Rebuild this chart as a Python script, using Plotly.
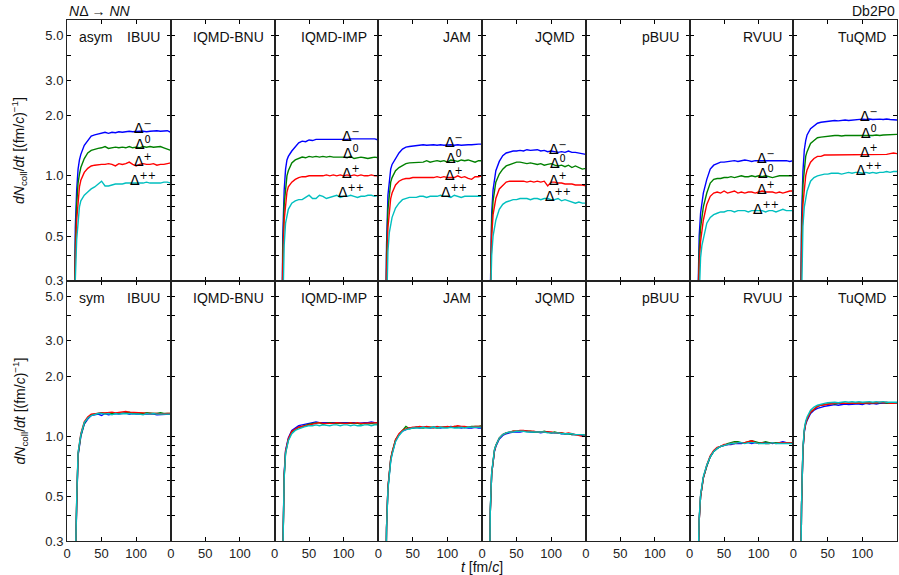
import math
import plotly.graph_objects as go
from plotly.subplots import make_subplots

# ---------------- data ----------------
models = ["IBUU", "IQMD-BNU", "IQMD-IMP", "JAM", "JQMD", "pBUU", "RVUU", "TuQMD"]
row_labels = ["asym", "sym"]
species = ["Δ<sup>−</sup>", "Δ<sup>0</sup>", "Δ<sup>+</sup>", "Δ<sup>++</sup>"]
colors = ["#0000ff", "#008000", "#ff0000", "#00bfbf"]

t = [10, 12, 14, 16, 18, 20, 25, 30, 35, 40, 45, 50, 55, 60, 65, 70, 75, 80, 85, 90,
     95, 100, 105, 110, 115, 120, 125, 130, 135, 140, 145, 150]

# ---- asymmetric system (top row) ----
ibuu_asym_m = [0.12, 0.55, 0.85, 1.08, 1.2, 1.28, 1.42, 1.5, 1.58, 1.6, 1.62, 1.63, 1.65, 1.63, 1.65, 1.64, 1.66, 1.65, 1.66, 1.67, 1.66, 1.67, 1.67, 1.67, 1.66, 1.67, 1.68, 1.68, 1.67, 1.67, 1.68, 1.65]
ibuu_asym_0 = [0.1, 0.45, 0.72, 0.92, 1.02, 1.1, 1.22, 1.3, 1.34, 1.36, 1.37, 1.38, 1.40, 1.37, 1.38, 1.39, 1.38, 1.39, 1.38, 1.40, 1.38, 1.39, 1.38, 1.40, 1.39, 1.40, 1.39, 1.40, 1.40, 1.38, 1.36, 1.34]
ibuu_asym_p = [0.1, 0.38, 0.6, 0.78, 0.88, 0.95, 1.04, 1.09, 1.12, 1.13, 1.14, 1.14, 1.14, 1.15, 1.14, 1.12, 1.15, 1.14, 1.15, 1.17, 1.14, 1.12, 1.14, 1.15, 1.14, 1.14, 1.15, 1.13, 1.14, 1.14, 1.15, 1.16]
ibuu_asym_pp = [0.1, 0.3, 0.48, 0.62, 0.7, 0.75, 0.8, 0.83, 0.86, 0.88, 0.91, 0.94, 0.89, 0.89, 0.90, 0.91, 0.91, 0.91, 0.92, 0.92, 0.92, 0.92, 0.92, 0.92, 0.93, 0.92, 0.92, 0.92, 0.92, 0.93, 0.93, 0.92]

imp_asym_m = [0.1, 0.5, 0.85, 1.08, 1.2, 1.25, 1.33, 1.4, 1.46, 1.49, 1.48, 1.51, 1.50, 1.52, 1.52, 1.52, 1.51, 1.52, 1.52, 1.51, 1.52, 1.52, 1.52, 1.53, 1.53, 1.52, 1.53, 1.53, 1.53, 1.53, 1.53, 1.51]
imp_asym_0 = [0.1, 0.42, 0.72, 0.9, 1.0, 1.06, 1.16, 1.2, 1.22, 1.24, 1.23, 1.25, 1.24, 1.25, 1.24, 1.25, 1.24, 1.25, 1.24, 1.24, 1.25, 1.24, 1.23, 1.25, 1.22, 1.23, 1.24, 1.23, 1.22, 1.23, 1.24, 1.23]
imp_asym_p = [0.1, 0.35, 0.6, 0.75, 0.83, 0.88, 0.93, 0.96, 0.98, 0.99, 0.99, 1.0, 1.0, 1.0, 1.0, 1.0, 1.01, 1.0, 1.01, 1.0, 1.01, 1.0, 1.01, 1.0, 1.01, 1.0, 1.01, 1.0, 1.0, 1.01, 1.0, 1.0]
imp_asym_pp = [0.1, 0.28, 0.45, 0.58, 0.64, 0.68, 0.73, 0.75, 0.76, 0.76, 0.78, 0.80, 0.77, 0.77, 0.80, 0.79, 0.77, 0.78, 0.79, 0.80, 0.78, 0.79, 0.79, 0.80, 0.79, 0.78, 0.79, 0.79, 0.80, 0.80, 0.79, 0.80]

jam_asym_m = [0.1, 0.45, 0.8, 0.98, 1.08, 1.14, 1.22, 1.3, 1.36, 1.39, 1.40, 1.41, 1.42, 1.42, 1.43, 1.42, 1.43, 1.43, 1.42, 1.43, 1.42, 1.43, 1.43, 1.42, 1.43, 1.42, 1.43, 1.43, 1.43, 1.44, 1.44, 1.44]
jam_asym_0 = [0.1, 0.4, 0.68, 0.84, 0.93, 0.98, 1.06, 1.1, 1.13, 1.15, 1.16, 1.16, 1.17, 1.16, 1.17, 1.19, 1.17, 1.18, 1.19, 1.18, 1.19, 1.17, 1.20, 1.19, 1.18, 1.2, 1.19, 1.2, 1.18, 1.17, 1.19, 1.19]
jam_asym_p = [0.1, 0.33, 0.55, 0.68, 0.77, 0.82, 0.9, 0.94, 0.96, 0.97, 0.97, 0.98, 0.98, 0.98, 0.98, 0.98, 0.98, 0.98, 0.99, 0.98, 0.99, 0.98, 0.98, 0.98, 1.0, 0.98, 0.99, 0.97, 0.96, 0.99, 0.99, 1.0]
jam_asym_pp = [0.1, 0.26, 0.42, 0.52, 0.58, 0.62, 0.69, 0.73, 0.76, 0.77, 0.78, 0.78, 0.78, 0.79, 0.79, 0.78, 0.79, 0.79, 0.79, 0.80, 0.79, 0.79, 0.78, 0.80, 0.79, 0.78, 0.79, 0.79, 0.79, 0.79, 0.79, 0.79]

jqmd_asym_m = [0.1, 0.35, 0.65, 0.85, 0.98, 1.06, 1.18, 1.26, 1.3, 1.32, 1.33, 1.33, 1.34, 1.33, 1.35, 1.34, 1.34, 1.35, 1.33, 1.34, 1.32, 1.33, 1.32, 1.31, 1.32, 1.31, 1.33, 1.31, 1.31, 1.30, 1.30, 1.28]
jqmd_asym_0 = [0.1, 0.32, 0.58, 0.75, 0.86, 0.93, 1.02, 1.08, 1.12, 1.14, 1.15, 1.17, 1.17, 1.16, 1.15, 1.16, 1.15, 1.14, 1.15, 1.13, 1.14, 1.15, 1.13, 1.12, 1.13, 1.11, 1.13, 1.10, 1.12, 1.10, 1.08, 1.09]
jqmd_asym_p = [0.1, 0.28, 0.5, 0.64, 0.72, 0.77, 0.86, 0.9, 0.93, 0.94, 0.94, 0.94, 0.94, 0.94, 0.93, 0.94, 0.93, 0.94, 0.93, 0.94, 0.89, 0.93, 0.93, 0.92, 0.92, 0.91, 0.91, 0.91, 0.90, 0.90, 0.90, 0.89]
jqmd_asym_pp = [0.1, 0.24, 0.4, 0.5, 0.56, 0.6, 0.68, 0.72, 0.74, 0.75, 0.76, 0.76, 0.77, 0.77, 0.77, 0.76, 0.77, 0.77, 0.76, 0.77, 0.77, 0.76, 0.76, 0.77, 0.75, 0.76, 0.75, 0.74, 0.73, 0.74, 0.73, 0.73]

rvuu_asym_m = [0.1, 0.25, 0.5, 0.65, 0.75, 0.82, 0.96, 1.08, 1.13, 1.15, 1.17, 1.17, 1.18, 1.19, 1.19, 1.18, 1.19, 1.20, 1.19, 1.18, 1.19, 1.19, 1.20, 1.19, 1.19, 1.19, 1.20, 1.19, 1.19, 1.19, 1.18, 1.19]
rvuu_asym_0 = [0.1, 0.22, 0.42, 0.55, 0.64, 0.7, 0.82, 0.92, 0.96, 0.97, 0.97, 0.98, 0.98, 0.99, 0.98, 0.99, 1.0, 0.99, 0.99, 1.0, 0.99, 1.0, 0.99, 1.0, 0.99, 0.98, 0.99, 1.0, 1.0, 1.0, 1.0, 1.0]
rvuu_asym_p = [0.1, 0.2, 0.36, 0.47, 0.55, 0.6, 0.72, 0.79, 0.82, 0.83, 0.82, 0.84, 0.82, 0.83, 0.84, 0.82, 0.83, 0.82, 0.83, 0.83, 0.82, 0.83, 0.84, 0.83, 0.83, 0.83, 0.82, 0.83, 0.82, 0.83, 0.84, 0.84]
rvuu_asym_pp = [0.1, 0.17, 0.3, 0.39, 0.45, 0.49, 0.58, 0.62, 0.64, 0.65, 0.66, 0.66, 0.67, 0.67, 0.66, 0.67, 0.67, 0.67, 0.66, 0.67, 0.67, 0.67, 0.67, 0.66, 0.67, 0.67, 0.66, 0.67, 0.68, 0.67, 0.67, 0.67]

tuqmd_asym_m = [0.1, 0.6, 1.05, 1.35, 1.5, 1.6, 1.72, 1.78, 1.83, 1.85, 1.86, 1.87, 1.88, 1.89, 1.88, 1.89, 1.90, 1.89, 1.90, 1.90, 1.91, 1.92, 1.91, 1.92, 1.91, 1.92, 1.92, 1.91, 1.92, 1.91, 1.90, 1.90]
tuqmd_asym_0 = [0.1, 0.5, 0.9, 1.12, 1.25, 1.32, 1.45, 1.5, 1.55, 1.56, 1.57, 1.58, 1.58, 1.59, 1.59, 1.58, 1.59, 1.59, 1.58, 1.59, 1.59, 1.58, 1.59, 1.58, 1.59, 1.60, 1.59, 1.60, 1.60, 1.60, 1.61, 1.61]
tuqmd_asym_p = [0.1, 0.4, 0.72, 0.9, 1.0, 1.07, 1.17, 1.22, 1.25, 1.25, 1.27, 1.27, 1.27, 1.28, 1.28, 1.27, 1.27, 1.28, 1.28, 1.28, 1.27, 1.28, 1.28, 1.27, 1.28, 1.28, 1.28, 1.28, 1.28, 1.29, 1.30, 1.29]
tuqmd_asym_pp = [0.1, 0.32, 0.56, 0.7, 0.78, 0.84, 0.94, 0.98, 1.0, 1.01, 1.02, 1.02, 1.03, 1.03, 1.03, 1.02, 1.03, 1.04, 1.03, 1.04, 1.04, 1.03, 1.04, 1.03, 1.04, 1.03, 1.04, 1.04, 1.05, 1.04, 1.05, 1.05]

# ---- symmetric system (bottom row) ----
ibuu_sym_m = [0.1, 0.25, 0.45, 0.8, 0.92, 1.0, 1.15, 1.22, 1.27, 1.28, 1.29, 1.27, 1.30, 1.28, 1.29, 1.30, 1.29, 1.30, 1.31, 1.29, 1.30, 1.29, 1.29, 1.30, 1.29, 1.29, 1.29, 1.28, 1.28, 1.29, 1.29, 1.29]
ibuu_sym_0 = [0.1, 0.25, 0.46, 0.81, 0.93, 1.01, 1.16, 1.24, 1.28, 1.29, 1.30, 1.31, 1.30, 1.31, 1.30, 1.30, 1.31, 1.31, 1.31, 1.32, 1.30, 1.31, 1.30, 1.30, 1.31, 1.30, 1.30, 1.30, 1.31, 1.30, 1.30, 1.30]
ibuu_sym_p = [0.1, 0.25, 0.47, 0.82, 0.95, 1.03, 1.18, 1.25, 1.29, 1.30, 1.30, 1.31, 1.31, 1.32, 1.32, 1.31, 1.32, 1.32, 1.33, 1.32, 1.32, 1.31, 1.31, 1.31, 1.30, 1.30, 1.31, 1.30, 1.29, 1.30, 1.30, 1.30]
ibuu_sym_pp = [0.1, 0.26, 0.48, 0.83, 0.94, 1.02, 1.17, 1.23, 1.27, 1.29, 1.30, 1.30, 1.29, 1.30, 1.28, 1.30, 1.29, 1.30, 1.30, 1.30, 1.29, 1.30, 1.29, 1.28, 1.30, 1.29, 1.30, 1.29, 1.29, 1.29, 1.30, 1.29]

imp_sym_m = [0.1, 0.3, 0.65, 0.85, 0.93, 0.98, 1.07, 1.10, 1.13, 1.14, 1.15, 1.16, 1.17, 1.18, 1.17, 1.17, 1.18, 1.17, 1.17, 1.18, 1.18, 1.17, 1.18, 1.17, 1.17, 1.16, 1.17, 1.17, 1.17, 1.18, 1.17, 1.17]
imp_sym_0 = [0.1, 0.3, 0.63, 0.83, 0.91, 0.96, 1.05, 1.08, 1.11, 1.12, 1.14, 1.15, 1.16, 1.16, 1.17, 1.15, 1.16, 1.17, 1.16, 1.16, 1.16, 1.16, 1.17, 1.16, 1.16, 1.16, 1.15, 1.16, 1.15, 1.16, 1.15, 1.15]
imp_sym_p = [0.1, 0.3, 0.64, 0.84, 0.92, 0.97, 1.06, 1.09, 1.11, 1.12, 1.13, 1.14, 1.15, 1.16, 1.17, 1.16, 1.16, 1.15, 1.16, 1.17, 1.16, 1.16, 1.16, 1.17, 1.16, 1.17, 1.16, 1.16, 1.17, 1.16, 1.16, 1.17]
imp_sym_pp = [0.1, 0.29, 0.62, 0.82, 0.9, 0.95, 1.03, 1.07, 1.09, 1.11, 1.12, 1.13, 1.13, 1.14, 1.13, 1.14, 1.13, 1.13, 1.14, 1.14, 1.13, 1.14, 1.14, 1.13, 1.14, 1.13, 1.13, 1.14, 1.14, 1.13, 1.14, 1.14]

jam_sym_m = [0.1, 0.35, 0.55, 0.68, 0.76, 0.82, 0.95, 1.02, 1.06, 1.08, 1.10, 1.10, 1.11, 1.10, 1.11, 1.11, 1.10, 1.11, 1.11, 1.10, 1.11, 1.11, 1.12, 1.11, 1.11, 1.10, 1.11, 1.10, 1.10, 1.11, 1.10, 1.10]
jam_sym_0 = [0.1, 0.35, 0.55, 0.68, 0.77, 0.83, 0.96, 1.02, 1.07, 1.12, 1.09, 1.10, 1.11, 1.11, 1.10, 1.11, 1.11, 1.11, 1.10, 1.11, 1.11, 1.11, 1.11, 1.12, 1.11, 1.11, 1.11, 1.11, 1.12, 1.12, 1.12, 1.13]
jam_sym_p = [0.1, 0.35, 0.56, 0.69, 0.77, 0.83, 0.96, 1.03, 1.07, 1.09, 1.10, 1.11, 1.11, 1.12, 1.11, 1.12, 1.11, 1.10, 1.12, 1.11, 1.11, 1.12, 1.11, 1.12, 1.13, 1.12, 1.12, 1.11, 1.11, 1.12, 1.12, 1.12]
jam_sym_pp = [0.1, 0.34, 0.54, 0.67, 0.75, 0.81, 0.94, 1.01, 1.06, 1.08, 1.09, 1.10, 1.10, 1.10, 1.11, 1.10, 1.10, 1.11, 1.10, 1.11, 1.10, 1.10, 1.11, 1.10, 1.10, 1.11, 1.10, 1.11, 1.11, 1.11, 1.11, 1.11]

jqmd_sym_m = [0.1, 0.42, 0.65, 0.76, 0.84, 0.89, 0.97, 1.01, 1.03, 1.04, 1.05, 1.05, 1.05, 1.06, 1.06, 1.05, 1.05, 1.05, 1.04, 1.05, 1.05, 1.04, 1.04, 1.04, 1.03, 1.03, 1.03, 1.02, 1.02, 1.02, 1.01, 1.01]
jqmd_sym_0 = [0.1, 0.42, 0.65, 0.77, 0.85, 0.9, 0.98, 1.02, 1.04, 1.05, 1.06, 1.06, 1.06, 1.06, 1.06, 1.06, 1.05, 1.05, 1.05, 1.06, 1.05, 1.04, 1.05, 1.04, 1.04, 1.03, 1.03, 1.02, 1.02, 1.02, 1.02, 1.01]
jqmd_sym_p = [0.1, 0.42, 0.65, 0.77, 0.85, 0.9, 0.98, 1.02, 1.04, 1.05, 1.06, 1.06, 1.07, 1.07, 1.06, 1.06, 1.06, 1.05, 1.05, 1.05, 1.05, 1.05, 1.04, 1.04, 1.04, 1.03, 1.04, 1.03, 1.02, 1.01, 1.00, 1.01]
jqmd_sym_pp = [0.1, 0.43, 0.66, 0.78, 0.86, 0.9, 0.98, 1.02, 1.04, 1.05, 1.05, 1.06, 1.06, 1.06, 1.05, 1.05, 1.05, 1.05, 1.05, 1.05, 1.04, 1.04, 1.04, 1.04, 1.03, 1.03, 1.03, 1.03, 1.02, 1.02, 1.02, 1.01]

rvuu_sym_m = [0.1, 0.2, 0.38, 0.5, 0.57, 0.62, 0.71, 0.79, 0.84, 0.87, 0.89, 0.90, 0.91, 0.91, 0.92, 0.92, 0.92, 0.93, 0.93, 0.92, 0.93, 0.93, 0.93, 0.93, 0.93, 0.92, 0.93, 0.93, 0.94, 0.93, 0.93, 0.93]
rvuu_sym_0 = [0.1, 0.2, 0.38, 0.5, 0.57, 0.62, 0.71, 0.79, 0.84, 0.87, 0.89, 0.90, 0.92, 0.93, 0.94, 0.94, 0.93, 0.93, 0.94, 0.95, 0.94, 0.93, 0.93, 0.94, 0.93, 0.93, 0.93, 0.93, 0.93, 0.93, 0.93, 0.93]
rvuu_sym_p = [0.1, 0.2, 0.38, 0.5, 0.57, 0.62, 0.72, 0.80, 0.85, 0.88, 0.89, 0.91, 0.91, 0.92, 0.92, 0.93, 0.93, 0.93, 0.94, 0.95, 0.93, 0.92, 0.93, 0.92, 0.92, 0.93, 0.92, 0.93, 0.93, 0.93, 0.93, 0.93]
rvuu_sym_pp = [0.1, 0.21, 0.39, 0.51, 0.58, 0.63, 0.72, 0.79, 0.84, 0.87, 0.89, 0.90, 0.91, 0.92, 0.92, 0.93, 0.93, 0.92, 0.93, 0.93, 0.93, 0.92, 0.92, 0.92, 0.92, 0.93, 0.92, 0.92, 0.92, 0.92, 0.92, 0.92]

tuqmd_sym_m = [0.1, 0.45, 0.85, 1.05, 1.15, 1.2, 1.3, 1.35, 1.38, 1.40, 1.41, 1.42, 1.43, 1.44, 1.43, 1.44, 1.45, 1.44, 1.45, 1.45, 1.45, 1.44, 1.46, 1.45, 1.46, 1.45, 1.46, 1.46, 1.47, 1.46, 1.46, 1.47]
tuqmd_sym_0 = [0.1, 0.45, 0.86, 1.07, 1.17, 1.22, 1.32, 1.37, 1.41, 1.43, 1.44, 1.45, 1.46, 1.45, 1.46, 1.47, 1.46, 1.46, 1.47, 1.46, 1.46, 1.47, 1.46, 1.47, 1.46, 1.47, 1.47, 1.48, 1.46, 1.47, 1.47, 1.47]
tuqmd_sym_p = [0.1, 0.45, 0.86, 1.06, 1.16, 1.22, 1.32, 1.37, 1.41, 1.43, 1.44, 1.45, 1.46, 1.47, 1.47, 1.46, 1.46, 1.47, 1.46, 1.46, 1.47, 1.46, 1.47, 1.47, 1.46, 1.47, 1.48, 1.47, 1.48, 1.46, 1.46, 1.47]
tuqmd_sym_pp = [0.1, 0.46, 0.88, 1.09, 1.19, 1.25, 1.35, 1.40, 1.43, 1.45, 1.46, 1.47, 1.48, 1.48, 1.47, 1.48, 1.49, 1.48, 1.49, 1.48, 1.49, 1.48, 1.49, 1.49, 1.48, 1.49, 1.48, 1.49, 1.48, 1.48, 1.48, 1.48]

asym_data = {
    "IBUU": [ibuu_asym_m, ibuu_asym_0, ibuu_asym_p, ibuu_asym_pp],
    "IQMD-IMP": [imp_asym_m, imp_asym_0, imp_asym_p, imp_asym_pp],
    "JAM": [jam_asym_m, jam_asym_0, jam_asym_p, jam_asym_pp],
    "JQMD": [jqmd_asym_m, jqmd_asym_0, jqmd_asym_p, jqmd_asym_pp],
    "RVUU": [rvuu_asym_m, rvuu_asym_0, rvuu_asym_p, rvuu_asym_pp],
    "TuQMD": [tuqmd_asym_m, tuqmd_asym_0, tuqmd_asym_p, tuqmd_asym_pp],
}
sym_data = {
    "IBUU": [ibuu_sym_m, ibuu_sym_0, ibuu_sym_p, ibuu_sym_pp],
    "IQMD-IMP": [imp_sym_m, imp_sym_0, imp_sym_p, imp_sym_pp],
    "JAM": [jam_sym_m, jam_sym_0, jam_sym_p, jam_sym_pp],
    "JQMD": [jqmd_sym_m, jqmd_sym_0, jqmd_sym_p, jqmd_sym_pp],
    "RVUU": [rvuu_sym_m, rvuu_sym_0, rvuu_sym_p, rvuu_sym_pp],
    "TuQMD": [tuqmd_sym_m, tuqmd_sym_0, tuqmd_sym_p, tuqmd_sym_pp],
}

y_major = [0.3, 0.5, 1.0, 2.0, 3.0, 5.0]
y_major_text = ["0.3", "0.5", "1.0", "2.0", "3.0", "5.0"]
y_minor = [0.4, 0.6, 0.7, 0.8, 0.9, 4.0, 6.0]
x_tickvals = [0, 50, 100]
x_ticktext = ["0", "50", "100"]
label_time = 110

# ---------------- figure ----------------
FONT = "Liberation Sans, Arial, sans-serif"
fig = make_subplots(rows=2, cols=8, horizontal_spacing=0, vertical_spacing=0)

for r, data in enumerate([asym_data, sym_data], start=1):
    for c, m in enumerate(models, start=1):
        if m not in data:
            fig.add_trace(go.Scatter(x=[None], y=[None], mode="lines", showlegend=False,
                                     hoverinfo="skip"), row=r, col=c)
            continue
        for k, series in enumerate(data[m]):
            fig.add_trace(go.Scatter(x=t, y=series, mode="lines",
                                     line=dict(color=colors[k], width=1.4),
                                     showlegend=False, hoverinfo="skip"),
                          row=r, col=c)

annotations = []
for r in (1, 2):
    for c, m in enumerate(models, start=1):
        n = (r - 1) * 8 + c
        sfx = "" if n == 1 else str(n)
        fig.update_xaxes(type="linear", range=[0, 150], tickvals=x_tickvals,
                         ticktext=x_ticktext, showticklabels=(r == 2),
                         ticks="inside", ticklen=4, tickcolor="black",
                         showline=True, linecolor="#222", linewidth=1,
                         mirror="ticks", showgrid=False, zeroline=False,
                         tickfont=dict(size=13, family=FONT, color="#222"),
                         row=r, col=c)
        fig.update_yaxes(type="log", range=[math.log10(0.3), math.log10(6.0)],
                         tickvals=y_major, ticktext=y_major_text,
                         showticklabels=(c == 1),
                         ticks="inside", ticklen=4, tickcolor="black",
                         minor=dict(tickvals=y_minor, ticks="inside", ticklen=4,
                                    tickcolor="black", showgrid=False),
                         showline=True, linecolor="#222", linewidth=1,
                         mirror="ticks", showgrid=False, zeroline=False,
                         tickfont=dict(size=13, family=FONT, color="#222"),
                         row=r, col=c)
        # model name
        annotations.append(dict(text=m, xref=f"x{sfx} domain", yref=f"y{sfx} domain",
                                x=1, y=1, xanchor="right", yanchor="middle",
                                xshift=-9, yshift=-17, showarrow=False,
                                font=dict(size=14, family=FONT, color="#111")))
        if c == 1:
            annotations.append(dict(text=row_labels[r - 1], xref=f"x{sfx} domain",
                                    yref=f"y{sfx} domain", x=0, y=1, xanchor="left",
                                    yanchor="middle", xshift=10, yshift=-17,
                                    showarrow=False,
                                    font=dict(size=14, family=FONT, color="#111")))
        if r == 1 and m in asym_data:
            idx = t.index(label_time)
            for k, series in enumerate(asym_data[m]):
                annotations.append(dict(text=species[k], xref=f"x{sfx}", yref=f"y{sfx}",
                                        x=label_time, y=math.log10(series[idx]),
                                        xanchor="center", yanchor="middle", yshift=4,
                                        showarrow=False,
                                        font=dict(size=14, family="DejaVu Sans", color="black")))

# global texts
annotations += [
    dict(text="<i>N</i>Δ → <i>NN</i>", xref="paper", yref="paper", x=0, y=1,
         xanchor="left", yanchor="bottom", showarrow=False, yshift=-1,
         font=dict(size=14, family=FONT, color="#111")),
    dict(text="Db2P0", xref="paper", yref="paper", x=1, y=1,
         xanchor="right", yanchor="bottom", showarrow=False, yshift=-1,
         font=dict(size=14, family=FONT, color="#111")),
    dict(text="<i>t</i> [fm/<i>c</i>]", xref="paper", yref="paper", x=0.5, y=0,
         xanchor="center", yanchor="middle", yshift=-26, showarrow=False,
         font=dict(size=14, family=FONT, color="#111")),
]
for yy in (0.75, 0.25):
    annotations.append(dict(text="<i>dN</i><sub>coll</sub>/<i>dt</i> [(fm/<i>c</i>)<sup>−1</sup>]",
                            xref="paper", yref="paper", x=-0.057, y=yy, textangle=-90,
                            xanchor="center", yanchor="middle", showarrow=False,
                            font=dict(size=14, family=FONT, color="#111")))

fig.update_layout(width=899, height=575, margin=dict(l=67, r=2, t=20, b=34),
                  plot_bgcolor="white", paper_bgcolor="white",
                  annotations=annotations, showlegend=False,
                  font=dict(family=FONT, color="#111"))

# remove the browser's default 8px body margin so the figure fills the window
fig.write_html("out.html", config={"displayModeBar": False},
               post_script="document.body.style.margin='0';")
